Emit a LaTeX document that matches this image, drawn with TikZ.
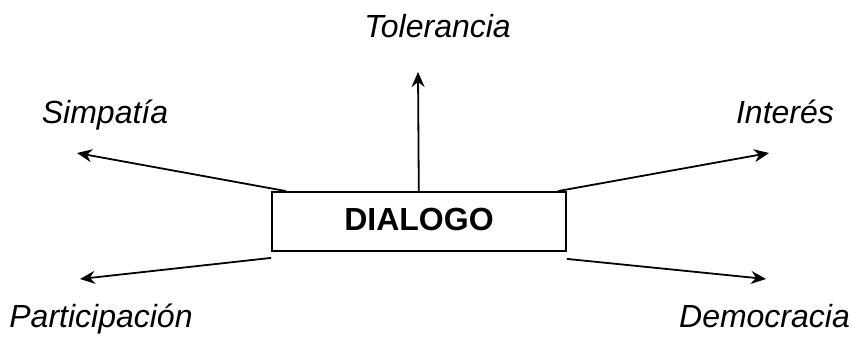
\documentclass[tikz,border=0pt]{standalone}
\usepackage{fontspec}
\setmainfont{Liberation Sans}
\usetikzlibrary{arrows.meta}
\begin{document}
\begin{tikzpicture}[x=1pt,y=-1pt,
  lbl/.style={font=\fontsize{32}{32}\selectfont\itshape, anchor=base, inner sep=0pt},
  conn/.style={line width=1.8pt, -{Stealth[length=15pt,width=13pt,inset=5pt]}},
  mainbox/.style={draw, line width=1.8pt, fill=white, minimum width=294pt, minimum height=59pt, inner sep=0pt}]
\useasboundingbox (0,0) rectangle (853,338);
% tips
\coordinate (tT) at (418,72);
\coordinate (tS) at (77,153);
\coordinate (tI) at (769,153);
\coordinate (tP) at (80,279);
\coordinate (tD) at (766,279);
% vertical behind box
\node[mainbox] (box0) at (419,221.5) {};
\draw[conn] (box0.center) -- (tT);
\node[mainbox] (box) at (419,221.5) {};
\node[font=\fontsize{32}{32}\selectfont\bfseries, anchor=base, inner sep=0pt] (dlg) at (419,230.5) {DIALOGO};
\coordinate (sS) at ([xshift=15pt]box.north west);
\coordinate (sI) at ([xshift=-9pt]box.north east);
\coordinate (sP) at ([yshift=-6pt]box.south west);
\coordinate (sD) at ([yshift=-7pt]box.south east);
\draw[conn] (sS) -- (tS);
\draw[conn] (sI) -- (tI);
\draw[conn] (sP) -- (tP);
\draw[conn] (sD) -- (tD);
\node[lbl] (tol) at (437.5,37) {Tolerancia};
\node[lbl] (sim) at (105,123) {Simpatía};
\node[lbl] (int) at (785,123) {Interés};
\node[lbl] (par) at (101,327) {Participación};
\node[lbl] (dem) at (764.5,327) {Democracia};
\end{tikzpicture}
\end{document}
